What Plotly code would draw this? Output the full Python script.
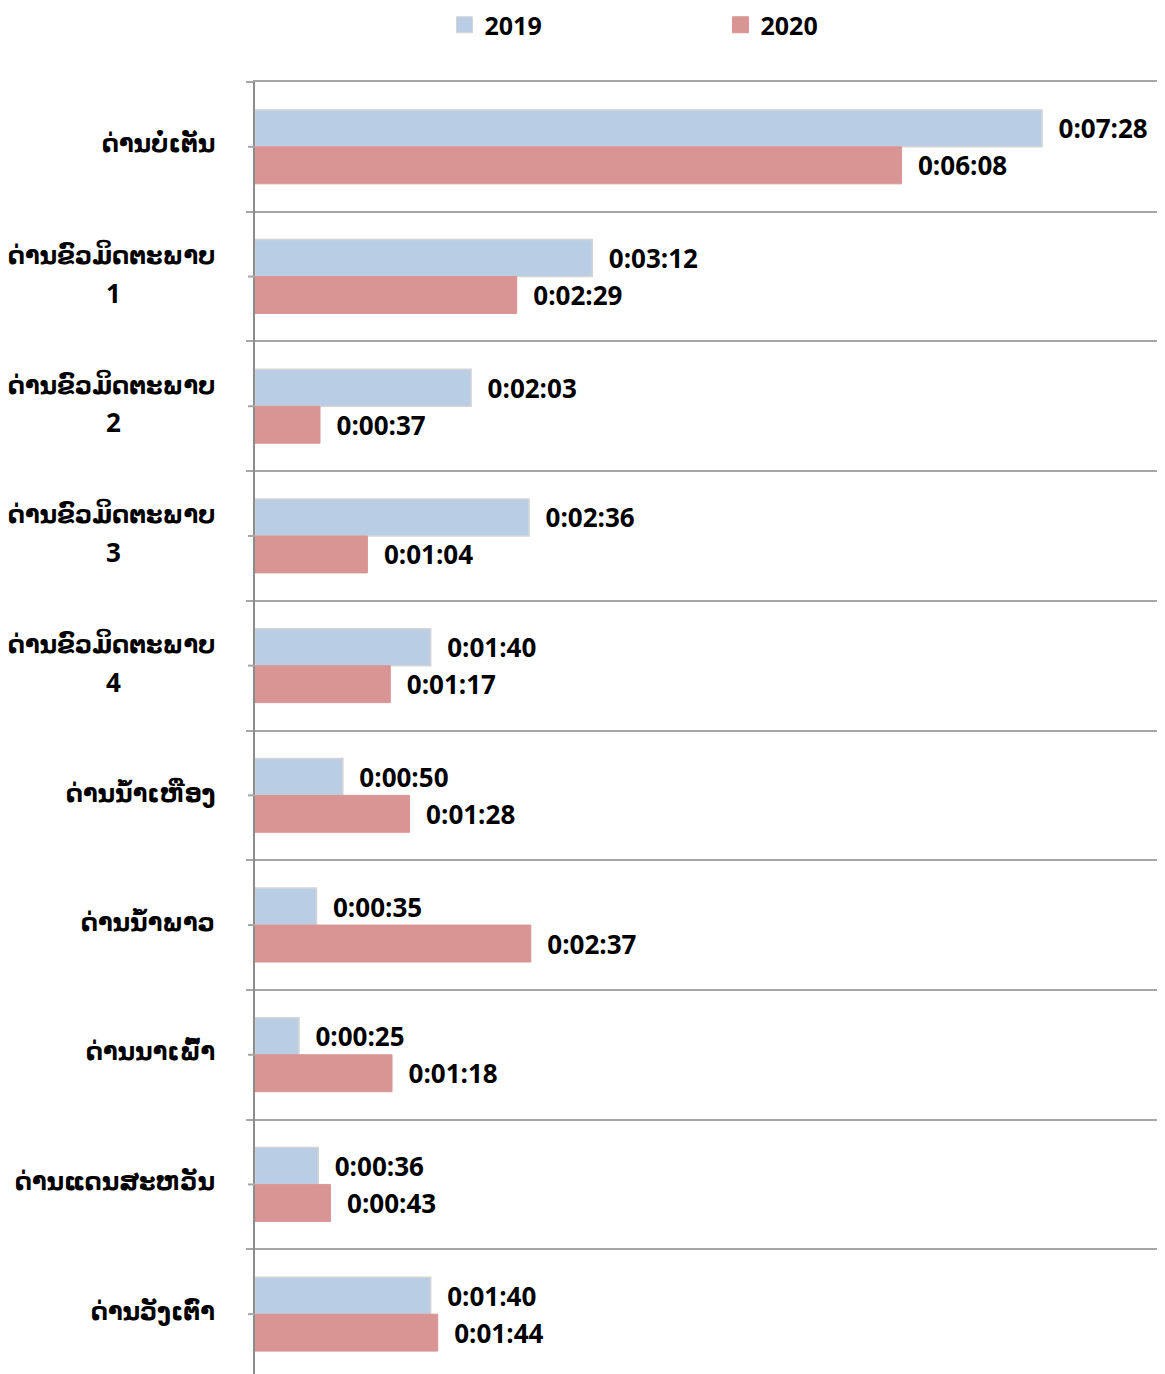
import plotly.graph_objects as go

categories = [
    "ດ່ານບໍ່ເຕັນ",
    "ດ່ານຂົວມິດຕະພາບ 1",
    "ດ່ານຂົວມິດຕະພາບ 2",
    "ດ່ານຂົວມິດຕະພາບ 3",
    "ດ່ານຂົວມິດຕະພາບ 4",
    "ດ່ານນ້ຳເຫືອງ",
    "ດ່ານນ້ຳພາວ",
    "ດ່ານນາເພົ້າ",
    "ດ່ານແດນສະຫວັນ",
    "ດ່ານວັງເຕົ່າ",
]
times_2019 = ["0:07:28", "0:03:12", "0:02:03", "0:02:36", "0:01:40",
              "0:00:50", "0:00:35", "0:00:25", "0:00:36", "0:01:40"]
times_2020 = ["0:06:08", "0:02:29", "0:00:37", "0:01:04", "0:01:17",
              "0:01:28", "0:02:37", "0:01:18", "0:00:43", "0:01:44"]
series_names = ["2019", "2020"]
series_colors = ["#b9cde5", "#d99594"]


def to_sec(t):
    h, m, s = (int(p) for p in t.split(":"))
    return h * 3600 + m * 60 + s


sec_2019 = [to_sec(t) for t in times_2019]
sec_2020 = [to_sec(t) for t in times_2020]

# page body has an 8px default margin
W, H = 1157, 1366
ML, MR, MT, MB = 247, 0, 74, 0
PW, PH = W - ML - MR, H - MT - MB
CAT_PX = 129.7
span = PH / CAT_PX

num_font = dict(family="Open Sans, DejaVu Sans", size=26, color="#000000", weight="bold")
lao_font = dict(family="DejaVu Sans", size=24, color="#000000", weight="bold")
pad = "\u00a0\u00a0"

fig = go.Figure()
fig.add_trace(go.Bar(
    name=series_names[0], y=categories, x=sec_2019, orientation="h",
    marker=dict(color=series_colors[0], line=dict(color="#d4d4d4", width=1.5)),
    text=[pad + t for t in times_2019], textposition="outside",
    textfont=num_font, constraintext="none", cliponaxis=False,
    hoverinfo="skip", showlegend=False,
))
fig.add_trace(go.Bar(
    name=series_names[1], y=categories, x=sec_2020, orientation="h",
    marker=dict(color=series_colors[1], line=dict(color=series_colors[1], width=1)),
    text=[pad + t for t in times_2020], textposition="outside",
    textfont=num_font, constraintext="none", cliponaxis=False,
    hoverinfo="skip", showlegend=False,
))
# legend entries with larger square swatches
for nm, col, lc in zip(series_names, series_colors, ["#d4d4d4", series_colors[1]]):
    fig.add_trace(go.Scatter(
        name=nm, x=[None], y=[None], mode="markers",
        marker=dict(symbol="square", size=17, color=col, line=dict(color=lc, width=1)),
        showlegend=True, hoverinfo="skip",
    ))

grid_col = "#a6a6a6"
shapes = []
annotations = []
for c in categories:
    shapes.append(dict(type="line", xref="paper", yref="y",
                       x0=-7 / PW, x1=0, y0=c, y1=c,
                       line=dict(color=grid_col, width=2)))
    parts = c.rsplit(" ", 1)
    if len(parts) == 2 and parts[1].isdigit():
        annotations.append(dict(
            xref="paper", yref="y", x=-38 / PW, y=c, text=parts[0],
            xanchor="right", yanchor="middle", yshift=22, showarrow=False,
            font=lao_font))
        annotations.append(dict(
            xref="paper", yref="y", x=-142 / PW, y=c, text=parts[1],
            xanchor="center", yanchor="middle", yshift=-16, showarrow=False,
            font=num_font))
    else:
        annotations.append(dict(
            xref="paper", yref="y", x=-38 / PW, y=c, text=c,
            xanchor="right", yanchor="middle", yshift=3, showarrow=False,
            font=lao_font))

fig.update_layout(
    width=W, height=H,
    margin=dict(l=ML, r=MR, t=MT, b=MB),
    paper_bgcolor="white", plot_bgcolor="white",
    barmode="group", bargap=0.43, bargroupgap=0,
    showlegend=True,
    legend=dict(orientation="h", x=189.5 / PW, xanchor="left",
                yref="container", y=1 - 17 / H, yanchor="middle",
                font=dict(family="Open Sans, DejaVu Sans", size=25, color="#000000", weight="bold"),
                entrywidth=231, itemclick=False, itemdoubleclick=False,
                bgcolor="rgba(0,0,0,0)"),
    xaxis=dict(range=[0, 518], showticklabels=False, showgrid=False, zeroline=False,
               side="top", showline=True, linecolor=grid_col, linewidth=2,
               ticks="", fixedrange=True),
    yaxis=dict(range=[-0.5 + span, -0.5], type="category",
               showticklabels=False, tickson="boundaries",
               ticks="outside", ticklen=7, tickwidth=2, tickcolor=grid_col,
               showgrid=True, gridcolor=grid_col, gridwidth=2,
               showline=True, linecolor="#8c8c8c", linewidth=2,
               zeroline=False, fixedrange=True),
    shapes=shapes,
    annotations=annotations,
)

fig.write_html("out.html")
